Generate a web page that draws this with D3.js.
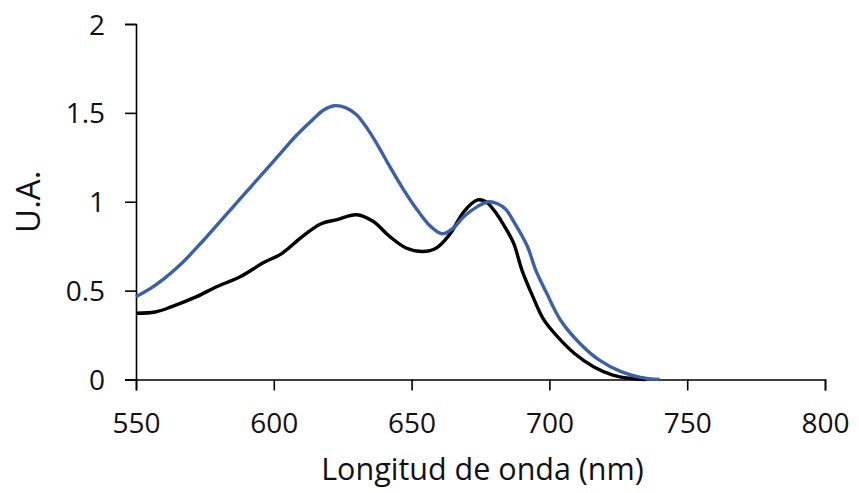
<!DOCTYPE html>
<html>
<head>
<meta charset="utf-8">
<script src="https://cdn.jsdelivr.net/npm/d3@7"></script>
<style>
  html, body { margin: 0; padding: 0; background: #fff; }
  svg { display: block; }
  text { font-family: "Open Sans", "DejaVu Sans", sans-serif; fill: #111; }
</style>
</head>
<body>
<svg id="chart" width="859" height="493"></svg>
<script>
// ---- data ----
const xTicks = [550, 600, 650, 700, 750, 800];
const yTicks = [0, 0.5, 1, 1.5, 2];
const yTickLabels = ["0", "0.5", "1", "1.5", "2"];
const xTitle = "Longitud de onda (nm)";
const yTitle = "U.A.";

const blueWl = [550, 555, 560, 567, 574, 582, 588, 596, 602, 608, 614, 618, 622, 626, 630, 634, 638, 642, 647, 652, 657, 661, 665, 669, 674, 678, 681, 684, 687, 692, 695, 699, 704, 711, 718, 726, 733, 740];
const blueVal = [0.466, 0.51, 0.565, 0.66, 0.775, 0.915, 1.02, 1.16, 1.265, 1.37, 1.46, 1.515, 1.54, 1.53, 1.49, 1.41, 1.31, 1.2, 1.07, 0.955, 0.86, 0.82, 0.85, 0.917, 0.974, 1.0, 0.99, 0.96, 0.89, 0.75, 0.617, 0.486, 0.335, 0.204, 0.11, 0.044, 0.012, 0];

const blackWl = [550, 557, 563, 572, 579, 588, 596, 603, 610, 617, 623, 630, 636, 642, 648, 654, 659, 664, 669, 674, 677, 680, 683, 687, 690, 694, 698, 703, 709, 716, 723, 729, 735];
const blackVal = [0.373, 0.38, 0.41, 0.466, 0.52, 0.58, 0.655, 0.71, 0.8, 0.875, 0.9, 0.927, 0.89, 0.805, 0.74, 0.72, 0.74, 0.82, 0.945, 1.01, 1.0, 0.95, 0.88, 0.767, 0.617, 0.466, 0.335, 0.24, 0.148, 0.072, 0.025, 0.007, 0];

const seriesColors = ["#3a60a8", "#000000"];

// ---- layout ----
const svg = d3.select("#chart");
const mLeft = 136, mRight = 825, mTop = 24, mBottom = 379.5;

const x = d3.scaleLinear().domain([550, 800]).range([mLeft, mRight]);
const y = d3.scaleLinear().domain([0, 2]).range([mBottom, mTop]);

// axes
const xAxis = d3.axisBottom(x).tickValues(xTicks).tickSize(11).tickPadding(23).tickFormat(d3.format("d"));
const yAxis = d3.axisLeft(y).tickValues(yTicks).tickSize(11).tickPadding(20).tickFormat((d, i) => yTickLabels[i]);

const gx = svg.append("g").attr("transform", `translate(0,${mBottom})`).call(xAxis);
const gy = svg.append("g").attr("transform", `translate(${mLeft},0)`).call(yAxis);

[gx, gy].forEach(g => {
  g.select(".domain").attr("stroke", "#000").attr("stroke-width", 1.6);
  g.selectAll(".tick line").attr("stroke", "#000").attr("stroke-width", 1.6);
  g.selectAll(".tick text").style("font-family", '"Open Sans", sans-serif').style("font-size", "28px").attr("fill", "#111");
});
gy.selectAll(".tick text").attr("dy", "0.36em");

// series
const line = d3.line().x(d => x(d[0])).y(d => y(d[1])).curve(d3.curveCatmullRom.alpha(0.5));
const series = [
  d3.zip(blackWl, blackVal),
  d3.zip(blueWl, blueVal)
];
svg.append("path").datum(series[0]).attr("d", line).attr("fill", "none")
  .attr("stroke", seriesColors[1]).attr("stroke-width", 3.4).attr("stroke-linejoin", "round");
svg.append("path").datum(series[1]).attr("d", line).attr("fill", "none")
  .attr("stroke", seriesColors[0]).attr("stroke-width", 3.4).attr("stroke-linejoin", "round");

// titles
svg.append("text").attr("x", (mLeft + mRight) / 2 + 2).attr("y", 480)
  .attr("text-anchor", "middle").style("font-size", "30.5px").text(xTitle);
svg.append("text").attr("transform", `translate(40,${(mTop + mBottom) / 2}) rotate(-90)`)
  .attr("text-anchor", "middle").style("font-size", "33px").text(yTitle);
</script>
</body>
</html>
